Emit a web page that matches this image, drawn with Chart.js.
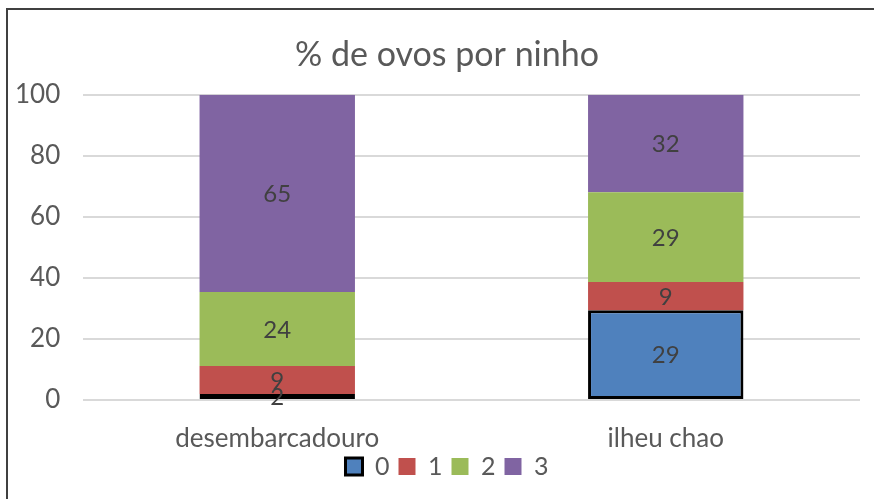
<!DOCTYPE html>
<html>
<head>
<meta charset="utf-8">
<script src="https://cdn.jsdelivr.net/npm/chart.js@4/dist/chart.umd.min.js"></script>
<style>
html,body{margin:0;padding:0;background:#fff;}
#wrap{position:relative;width:874px;height:499px;}
</style>
</head>
<body>
<div id="wrap"><canvas id="c" width="874" height="499"></canvas></div>
<script>
const categories = ["desembarcadouro", "ilheu chao"];
const seriesNames = ["0", "1", "2", "3"];
const values0 = [2.0, 29.4];
const values1 = [9.1, 9.3];
const values2 = [24.3, 29.4];
const values3 = [64.6, 31.9];
const yTicks = [0, 20, 40, 60, 80, 100];

const colors = ["#4f81bd", "#c0504d", "#9bbb59", "#8064a2"];
const FONT = "Lato, 'Open Sans', 'Liberation Sans', sans-serif";

const frame = {
  id: 'frame',
  afterDraw(chart) {
    const ctx = chart.ctx;
    ctx.save();
    ctx.strokeStyle = '#404040';
    ctx.lineWidth = 2;
    ctx.beginPath();
    ctx.moveTo(7, 499);
    ctx.lineTo(7, 9);
    ctx.lineTo(874, 9);
    ctx.stroke();
    ctx.restore();
  }
};

const labelsPlugin = {
  id: 'barLabels',
  afterDatasetsDraw(chart) {
    const ctx = chart.ctx;
    ctx.save();
    ctx.fillStyle = '#404040';
    ctx.font = "24px " + FONT;
    ctx.textAlign = 'center';
    ctx.textBaseline = 'middle';
    chart.data.datasets.forEach((ds, i) => {
      const meta = chart.getDatasetMeta(i);
      meta.data.forEach((bar, j) => {
        const v = ds.data[j];
        const yc = (bar.y + bar.base) / 2;
        ctx.fillText(String(Math.round(v)), bar.x, yc + 1);
      });
    });
    ctx.restore();
  }
};

const dataSets = [values0, values1, values2, values3].map((vals, i) => ({
  label: seriesNames[i],
  data: vals,
  backgroundColor: colors[i],
  borderColor: i === 0 ? '#000000' : colors[i],
  borderWidth: i === 0 ? 3 : 0,
  borderSkipped: false,
  categoryPercentage: 1.0,
  barPercentage: 0.4
}));

new Chart(document.getElementById('c'), {
  type: 'bar',
  data: { labels: categories, datasets: dataSets },
  options: {
    responsive: false,
    animation: false,
    layout: { padding: { left: 34, right: 14, top: 27, bottom: 10 } },
    plugins: {
      title: {
        display: true,
        text: "% de ovos por ninho",
        color: '#595959',
        font: { family: FONT, size: 34, weight: 'normal' },
        padding: { top: 8, bottom: 19 }
      },
      legend: {
        position: 'bottom',
        labels: {
          color: '#595959',
          font: { family: FONT, size: 25 },
          boxWidth: 17,
          boxHeight: 17,
          padding: 9
        }
      },
      tooltip: { enabled: false }
    },
    scales: {
      x: {
        stacked: true,
        grid: { display: false },
        border: { display: false },
        ticks: { color: '#595959', font: { family: FONT, size: 26 }, padding: -54, mirror: true },
        afterFit(axis) { axis.height = 45; }
      },
      y: {
        stacked: true,
        min: 0,
        max: 100,
        afterBuildTicks(axis) { axis.ticks = yTicks.map(v => ({ value: v })); },
        grid: { color: '#d9d9d9', lineWidth: 2, drawTicks: false },
        border: { display: false },
        ticks: { color: '#595959', font: { family: FONT, size: 26 }, padding: -68, mirror: true, crossAlign: 'far' },
        afterFit(axis) { axis.width = 49; }
      }
    }
  },
  plugins: [frame, labelsPlugin]
});
</script>
</body>
</html>
